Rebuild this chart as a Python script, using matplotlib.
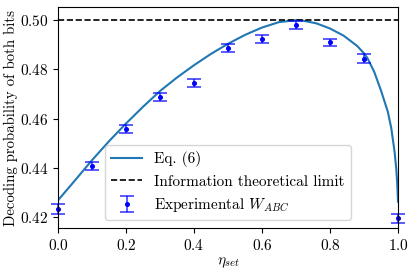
import matplotlib
matplotlib.use('Agg')
import matplotlib.pyplot as plt

plt.rcParams['font.family'] = 'serif'
plt.rcParams['font.serif'] = ['cmr10']
plt.rcParams['mathtext.fontset'] = 'cm'
plt.rcParams['axes.formatter.use_mathtext'] = True
plt.rcParams['font.size'] = 11

#theory curve, Eq. (6)
eta_curve = [0.0, 0.05, 0.1, 0.15, 0.2, 0.25, 0.3, 0.35, 0.4, 0.45, 0.5, 0.55, 0.6,
             0.65, 0.7, 0.72, 0.76, 0.8, 0.84, 0.88, 0.9, 0.91, 0.93, 0.95, 0.97,
             0.98, 0.99, 0.995, 0.998, 1.0]
p_curve = [0.4268, 0.4349, 0.4431, 0.4508, 0.4580, 0.4648, 0.4712, 0.4767, 0.4817, 0.4863,
           0.4904, 0.4940, 0.4970, 0.4992, 0.5000, 0.4998, 0.4987, 0.4966, 0.4937, 0.4895,
           0.4865, 0.4846, 0.4790, 0.4714, 0.4628, 0.4563, 0.4465, 0.4395, 0.4330, 0.4262]

#experimental points
eta_exp = [0.0, 0.1, 0.2, 0.3, 0.4, 0.5, 0.6, 0.7, 0.8, 0.9, 1.0]
p_exp = [0.4231, 0.4408, 0.4558, 0.4687, 0.4744, 0.4887, 0.4924, 0.4980, 0.4910, 0.4844, 0.4195]
p_err = [0.0020, 0.0016, 0.0015, 0.0015, 0.0015, 0.0016, 0.0015, 0.0016, 0.0015, 0.0018, 0.0018]

limit = 0.5

fig = plt.figure(figsize=(4.15, 2.74), dpi=100)
ax = fig.add_axes([0.140, 0.168, 0.819, 0.806])

ax.plot(eta_curve, p_curve, color='#1f77b4', lw=1.5, label='Eq. (6)')
ax.axhline(limit, color='black', ls='--', lw=1.2, label='Information theoretical limit')
eb = ax.errorbar(eta_exp, p_exp, yerr=p_err, fmt='o', ms=2.6, color='blue',
                 ecolor=(0.0, 0.0, 1.0, 0.75), capsize=5, elinewidth=1.2, capthick=1.2,
                 label='Experimental $W_{ABC}$')
for art in eb.lines[0:1] + eb.lines[1] + eb.lines[2]:
    art.set_clip_on(False)

ax.set_xlim(0, 1)
ax.set_ylim(0.4155, 0.5053)
ax.set_xticks([0.0, 0.2, 0.4, 0.6, 0.8, 1.0])
ax.set_yticks([0.42, 0.44, 0.46, 0.48, 0.50])
ax.set_xlabel(r'$\eta_{set}$', labelpad=2)
ax.set_ylabel('Decoding probability of both bits', fontsize=10.7, labelpad=1)
ax.legend(loc='lower center')

fig.savefig('out.png', dpi=100)
